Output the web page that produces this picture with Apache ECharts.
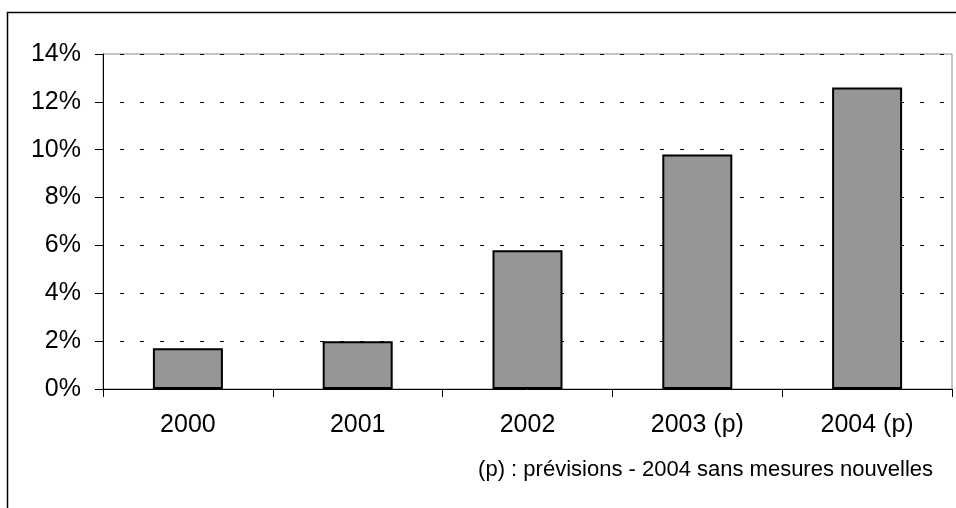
<!DOCTYPE html>
<html>
<head>
<meta charset="utf-8">
<script src="https://cdn.jsdelivr.net/npm/echarts@6/dist/echarts.min.js"></script>
<style>
  html, body { margin: 0; padding: 0; background: #ffffff; }
  #chart { width: 956px; height: 508px; }
</style>
</head>
<body>
<div id="chart"></div>
<script>
// Annual rate, in percent
const categories = ['2000', '2001', '2002', '2003 (p)', '2004 (p)'];
const values = [1.7, 2.0, 5.8, 9.8, 12.6];
const footnote = '(p) : prévisions - 2004 sans mesures nouvelles';

const FONT = '"Liberation Sans", Arial, sans-serif';

const chart = echarts.init(document.getElementById('chart'), null, { renderer: 'canvas' });

chart.setOption({
  animation: false,
  backgroundColor: '#ffffff',
  grid: {
    left: 103, right: 4, top: 54, bottom: 119,
    show: true,
    borderColor: '#8c8c8c',
    borderWidth: 1,
    backgroundColor: 'transparent'
  },
  xAxis: {
    type: 'category',
    data: categories,
    boundaryGap: true,
    axisLine: { show: true, lineStyle: { color: '#000000', width: 1 } },
    axisTick: { show: true, alignWithLabel: false, length: 8, lineStyle: { color: '#000000', width: 1 } },
    axisLabel: {
      color: '#000000',
      fontFamily: FONT,
      fontSize: 25,
      margin: 24
    },
    splitLine: { show: false }
  },
  yAxis: {
    type: 'value',
    min: 0,
    max: 14,
    interval: 2,
    axisLine: { show: true, lineStyle: { color: '#000000', width: 1 } },
    axisTick: { show: true, length: 8, lineStyle: { color: '#000000', width: 1 } },
    axisLabel: {
      color: '#000000',
      fontFamily: FONT,
      fontSize: 25,
      margin: 22,
      formatter: v => v + '%'
    },
    splitLine: {
      show: true,
      lineStyle: { color: '#000000', width: 1, type: [4, 16], dashOffset: 3 }
    }
  },
  series: [{
    type: 'bar',
    data: values,
    barWidth: 70,
    itemStyle: {
      color: '#969696',
      borderColor: '#000000',
      borderWidth: 2
    }
  }],
  graphic: [
    {
      type: 'rect',
      shape: { x: 7.5, y: 12.5, width: 1000, height: 1000 },
      style: { fill: 'none', stroke: '#000000', lineWidth: 1.5 },
      silent: true,
      z: 10
    },
    {
      type: 'text',
      right: 23,
      top: 459,
      style: {
        text: footnote,
        fill: '#000000',
        font: '22px ' + FONT
      }
    }
  ]
});
</script>
</body>
</html>
